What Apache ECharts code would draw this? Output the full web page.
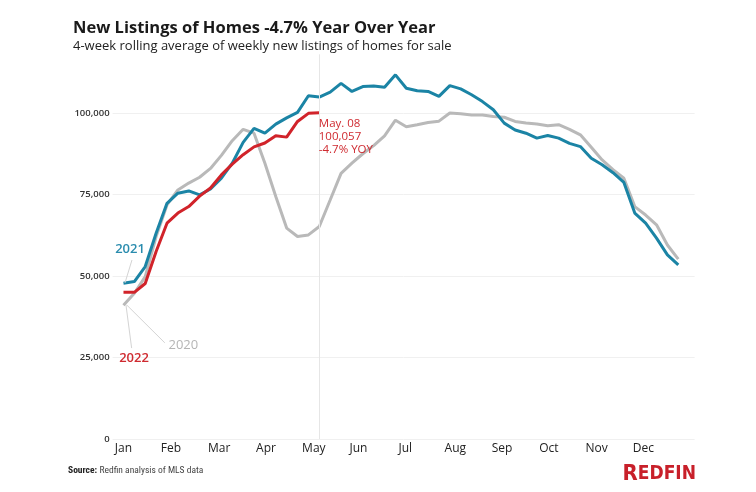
<!DOCTYPE html>
<html>
<head>
<meta charset="utf-8">
<script src="https://cdn.jsdelivr.net/npm/echarts@6/dist/echarts.min.js"></script>
<style>
html,body{margin:0;padding:0;background:#fff;}
#c{width:756px;height:492px;}
</style>
</head>
<body>
<div id="c"></div>
<script>
// Month tick labels and their positions (in weeks from first week)
var months = ['Jan','Feb','Mar','Apr','May','Jun','Jul','Aug','Sep','Oct','Nov','Dec'];
var monthTicks = [0, 4.36, 8.8, 13.1, 17.5, 21.6, 25.9, 30.5, 34.8, 39.1, 43.5, 47.8];
var yTicks = [0, 25000, 50000, 75000, 100000];

// 4-week rolling average of weekly new listings (weekly points)
var listings2020 = [41000, 44700, 49800, 62100, 71800, 76400, 78500, 80300, 83000, 87000, 91500, 95000, 93800, 84600, 74400, 64700, 62100, 62600, 65200, 73300, 81500, 84600, 87500, 90000, 93000, 97800, 95800, 96400, 97100, 97500, 100000, 99800, 99400, 99400, 98900, 98700, 97400, 96900, 96600, 96100, 96400, 95000, 93300, 89500, 85600, 82600, 80000, 71300, 68700, 65700, 59500, 55200];
var listings2021 = [47800, 48300, 52900, 63100, 72300, 75400, 76100, 74900, 76700, 80000, 84600, 91000, 95300, 93800, 96600, 98500, 100200, 105300, 104900, 106400, 109100, 106600, 108100, 108300, 107900, 111700, 107600, 106800, 106600, 105100, 108400, 107400, 105600, 103500, 101000, 96900, 94800, 93800, 92300, 93100, 92300, 90700, 89700, 86100, 84100, 81700, 78700, 69300, 66200, 61600, 56500, 53400];
var listings2022 = [45000, 45000, 47700, 57500, 66200, 69300, 71300, 74500, 77000, 81000, 84300, 87200, 89600, 90800, 93000, 92600, 97400, 99900, 100057];

function pairs(arr){ return arr.map(function(v,i){ return [i, v]; }); }

var TEAL = '#1b84a5', RED = '#d1232a', GRAY = '#b9b9b9';
var FONT = 'Open Sans, Lato, sans-serif';

var chart = echarts.init(document.getElementById('c'), null, {renderer:'canvas'});
chart.setOption({
  animation: false,
  backgroundColor: '#fff',
  textStyle: {fontFamily: FONT},
  title: [
    {text: 'New Listings of Homes -4.7% Year Over Year', left: 68, top: 15,
     textStyle: {fontFamily: FONT, fontSize: 16.5, fontWeight: 700, color: '#1a1a1a'}},
    {text: '4-week rolling average of weekly new listings of homes for sale', left: 68, top: 35,
     textStyle: {fontFamily: FONT, fontSize: 13, fontWeight: 400, color: '#222'}},
    {text: '{b|Source:} {n|Redfin analysis of MLS data}', left: 63, top: 461,
     textStyle: {fontSize: 9, fontWeight: 400, color: '#444',
       rich: {
         b: {fontFamily: 'Roboto Condensed, DejaVu Sans Condensed, sans-serif', fontSize: 9.5, fontWeight: 700, color: '#222'},
         n: {fontFamily: 'Roboto Condensed, DejaVu Sans Condensed, sans-serif', fontSize: 9.5, fontWeight: 400, color: '#444'}}}},
    {text: '{r|R}{e|EDFIN}', right: 55, top: 458,
     textStyle: {rich: {
       r: {fontFamily: 'DejaVu Sans Condensed, Roboto Condensed, sans-serif', fontSize: 22, fontWeight: 700, color: '#c8202a'},
       e: {fontFamily: 'DejaVu Sans Condensed, Roboto Condensed, sans-serif', fontSize: 19, fontWeight: 700, color: '#c8202a'}}}}
  ],
  grid: {left: 112.6, right: 756 - 694.6, top: 31.5, bottom: 492 - 439, containLabel: false},
  xAxis: {
    type: 'value', min: -1, max: 52.5,
    axisLine: {show: false}, axisTick: {show: false}, splitLine: {show: false},
    axisLabel: {
      customValues: monthTicks,
      margin: 4, fontSize: 12, color: '#222', fontFamily: FONT,
      formatter: function(v){
        for (var i = 0; i < monthTicks.length; i++) { if (Math.abs(monthTicks[i]-v) < 0.01) return months[i]; }
        return '';
      }
    }
  },
  yAxis: {
    type: 'value', min: 0, max: 125000, interval: 25000,
    axisLine: {show: false}, axisTick: {show: false},
    splitLine: {show: true, showMaxLine: false, lineStyle: {color: '#f0f0f0', width: 1}},
    axisLabel: {
      showMaxLabel: false, margin: 3, fontSize: 9.5, fontWeight: 600, color: '#333', fontFamily: FONT,
      formatter: function(v){ return yTicks.indexOf(v) >= 0 ? v.toLocaleString('en-US') : ''; }
    }
  },
  series: [
    {
      name: '2020', type: 'line', data: pairs(listings2020), showSymbol: false, smooth: false,
      lineStyle: {color: GRAY, width: 3}, itemStyle: {color: GRAY}, z: 2,
      markLine: {silent: true, symbol: 'none', label: {show: false},
        lineStyle: {color: '#d4d4d4', width: 1, type: 'solid'},
        data: [[{coord: [0.3, 41100]}, {coord: [3.8, 29500]}]]},
      markPoint: {silent: true, symbol: 'circle', symbolSize: 1, itemStyle: {color: 'rgba(0,0,0,0)'},
        data: [{coord: [5.5, 28800], label: {show: true, position: 'inside', formatter: '2020',
          fontFamily: FONT, fontSize: 13, fontWeight: 400, color: '#b5b5b5'}}]}
    },
    {
      name: '2021', type: 'line', data: pairs(listings2021), showSymbol: false, smooth: false,
      lineStyle: {color: TEAL, width: 3}, itemStyle: {color: TEAL}, z: 3,
      markLine: {silent: true, symbol: 'none', label: {show: false},
        lineStyle: {color: '#d4d4d4', width: 1, type: 'solid'},
        data: [[{coord: [0.78, 54900]}, {coord: [0.14, 47900]}]]},
      markPoint: {silent: true, symbol: 'circle', symbolSize: 1, itemStyle: {color: 'rgba(0,0,0,0)'},
        data: [{coord: [0.6, 58300], label: {show: true, position: 'inside', formatter: '2021',
          fontFamily: FONT, fontSize: 13, fontWeight: 600, color: '#2a8cae'}}]}
    },
    {
      name: '2022', type: 'line', data: pairs(listings2022), showSymbol: false, smooth: false,
      lineStyle: {color: RED, width: 3}, itemStyle: {color: RED}, z: 4,
      markLine: {silent: true, symbol: 'none', label: {show: false},
        data: [
          [{coord: [18, 0], lineStyle: {color: '#e6e6e6', width: 1, type: 'solid'}}, {coord: [18, 118000]}],
          [{coord: [0.75, 27900], lineStyle: {color: '#d4d4d4', width: 1, type: 'solid'}}, {coord: [0.23, 41100]}]
        ]},
      markPoint: {silent: true, symbol: 'circle', symbolSize: 1, itemStyle: {color: 'rgba(0,0,0,0)'},
        data: [
          {coord: [0.97, 24900], label: {show: true, position: 'inside', formatter: '2022',
            fontFamily: FONT, fontSize: 13, fontWeight: 600, color: '#cf2a30'}},
          {coord: [18, 100057], label: {show: true, position: [0, 5], align: 'left', verticalAlign: 'top',
            formatter: 'May. 08\n100,057\n-4.7% YOY', lineHeight: 13,
            fontFamily: FONT, fontSize: 11.5, fontWeight: 400, color: '#cf2a30'}}
        ]}
    }
  ]
});
</script>
</body>
</html>
